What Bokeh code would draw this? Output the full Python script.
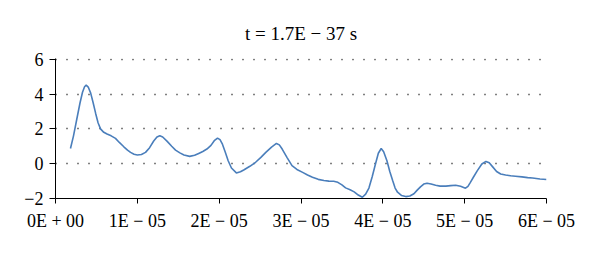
from bokeh.plotting import figure
from bokeh.models import FixedTicker, Range1d
from bokeh.embed import file_html
from bokeh.resources import INLINE

# curve (x in units of 1e-5 s)
x_e5 = [0.183, 0.22, 0.26, 0.30, 0.33, 0.355, 0.375, 0.40, 0.43, 0.46, 0.49, 0.52, 0.55,
        0.59, 0.63, 0.68, 0.733, 0.78, 0.835, 0.88, 0.917, 0.96, 1.00, 1.05, 1.10, 1.15,
        1.20, 1.24, 1.275, 1.31, 1.365, 1.42, 1.467, 1.52, 1.57, 1.64, 1.70, 1.75, 1.80,
        1.85, 1.90, 1.94, 1.98, 2.01, 2.04, 2.075, 2.11, 2.15, 2.21, 2.26, 2.30, 2.375,
        2.445, 2.51, 2.57, 2.64, 2.70, 2.735, 2.77, 2.83, 2.89, 2.95, 3.02, 3.08, 3.14,
        3.21, 3.28, 3.34, 3.40, 3.45, 3.50, 3.545, 3.60, 3.65, 3.70, 3.75, 3.79, 3.83,
        3.87, 3.91, 3.945, 3.98, 4.01, 4.05, 4.085, 4.12, 4.15, 4.18, 4.23, 4.28, 4.33,
        4.38, 4.42, 4.46, 4.50, 4.54, 4.59, 4.645, 4.70, 4.77, 4.83, 4.89, 4.95, 5.01,
        5.04, 5.07, 5.11, 5.155, 5.21, 5.26, 5.30, 5.34, 5.39, 5.44, 5.50, 5.56, 5.62,
        5.70, 5.77, 5.83, 5.92, 6.0]
y_vals = [0.87, 1.6, 2.55, 3.5, 4.1, 4.42, 4.51, 4.40, 4.05, 3.5, 2.9, 2.35, 2.0,
          1.80, 1.70, 1.60, 1.45, 1.22, 0.97, 0.78, 0.65, 0.54, 0.50, 0.53, 0.65, 0.92,
          1.30, 1.53, 1.60, 1.53, 1.28, 1.00, 0.78, 0.62, 0.50, 0.42, 0.48, 0.59, 0.70,
          0.84, 1.05, 1.32, 1.47, 1.38, 1.12, 0.65, 0.17, -0.25, -0.53, -0.46, -0.36, -0.15,
          0.08, 0.36, 0.65, 0.95, 1.16, 1.08, 0.84, 0.35, -0.11, -0.33, -0.50, -0.65, -0.78,
          -0.90, -0.97, -1.00, -1.01, -1.07, -1.22, -1.39, -1.50, -1.62, -1.80, -1.93, -1.75, -1.40,
          -0.75, -0.02, 0.60, 0.87, 0.68, 0.17, -0.45, -0.97, -1.40, -1.64, -1.83, -1.89, -1.86,
          -1.73, -1.52, -1.33, -1.17, -1.12, -1.17, -1.24, -1.29, -1.29, -1.26, -1.24, -1.30, -1.41,
          -1.30, -1.07, -0.75, -0.40, -0.02, 0.13, 0.05, -0.17, -0.45, -0.59, -0.65, -0.69, -0.72,
          -0.76, -0.80, -0.82, -0.88, -0.91]

x_ticks = [0, 1e-5, 2e-5, 3e-5, 4e-5, 5e-5, 6e-5]
x_tick_labels = ["0E + 00", "1E \u2212 05", "2E \u2212 05", "3E \u2212 05",
                 "4E \u2212 05", "5E \u2212 05", "6E \u2212 05"]
y_ticks = [-2, 0, 2, 4, 6]
y_tick_labels = ["\u22122", "0", "2", "4", "6"]
title_text = "t = 1.7E \u2212 37 s"

xs = [v * 1e-5 for v in x_e5]

FONT = "Liberation Serif"

p = figure(width=600, height=253, output_backend="svg", toolbar_location=None,
           x_range=Range1d(0, 6e-5), y_range=Range1d(-2, 6.04),
           min_border_left=55, min_border_right=54, min_border_top=58, min_border_bottom=55,
           title=title_text)
p.outline_line_color = None
p.background_fill_color = "white"
p.border_fill_color = "white"

p.title.text_font = FONT
p.title.text_font_size = "19px"
p.title.text_font_style = "normal"
p.title.align = "center"
p.title.text_color = "black"
p.title.standoff = 29

p.line(xs, y_vals, line_color="#4a7ebb", line_width=1.6)

# axes
p.xaxis.ticker = FixedTicker(ticks=x_ticks)
p.xaxis.major_label_overrides = {t: l for t, l in zip(x_ticks, x_tick_labels)}
p.yaxis.ticker = FixedTicker(ticks=y_ticks)
p.yaxis.major_label_overrides = {t: l for t, l in zip(y_ticks, y_tick_labels)}
for ax in (p.xaxis, p.yaxis):
    ax.axis_line_color = "black"
    ax.axis_line_width = 1
    ax.major_tick_line_color = "black"
    ax.major_tick_in = 0
    ax.minor_tick_line_color = None
    ax.major_label_text_font = FONT
    ax.major_label_text_font_size = "18px"
    ax.major_label_text_color = "black"
p.xaxis.major_tick_out = 5
p.yaxis.major_tick_out = 6
p.xaxis.major_label_standoff = 7
p.yaxis.major_label_standoff = 6

p.xgrid.grid_line_color = None
p.ygrid.ticker = FixedTicker(ticks=[0, 2, 4, 6])
p.ygrid.grid_line_color = "black"
p.ygrid.grid_line_width = 1.3
p.ygrid.grid_line_dash = "1 10"
p.ygrid.grid_line_dash_offset = 0

open("out.html", "w").write(file_html(p, INLINE))
